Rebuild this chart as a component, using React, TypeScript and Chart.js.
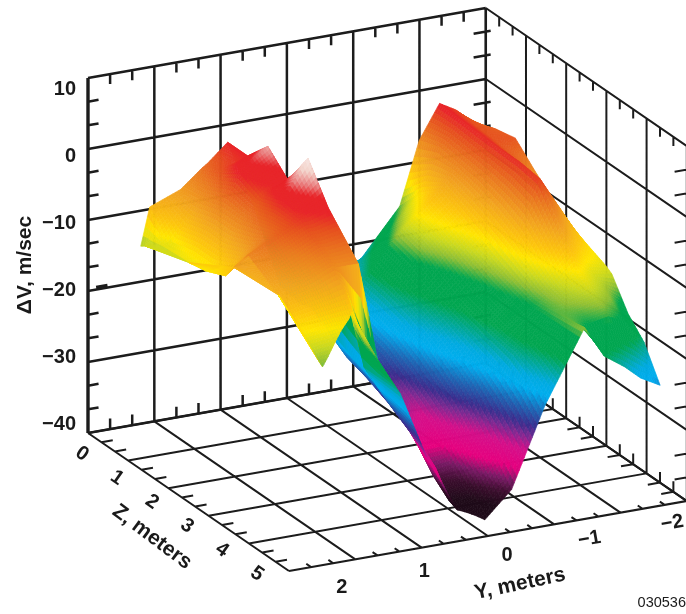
import React, { useEffect, useRef } from "react";
import { Chart, registerables } from "chart.js";

Chart.register(...registerables);

// ---- data (metres, m/sec) ----
const DV_TICKS = [10, 0, -10, -20, -30, -40];
const Z_TICKS = [0, 1, 2, 3, 4, 5];
const Y_TICKS = [2, 1, 0, -1, -2];
// wall grid lines along Y
const Y_GRID = [2.45, 1.633, 0.817, 0, -0.817, -1.633, -2.45];

const SURF_Y = [1.8, 1.69, 1.31, 1.045, 0.98, 0.73, 0.41, 0.25, 0.08, -0.16, -0.49, -0.9, -1.39, -1.63, -1.88, -2.08, -2.32];
const SURF_Z = [0, 0.5, 1, 1.5, 2, 2.5, 3.25, 3.4, 3.8, 4.2, 4.6];
const SURF_Z_FRONT = [0.12, 4.3, 3.95, 3.73, 4.25, 4.3, 4.3, 4.35, 4.4, 4.6, 4.6, 4.6, 4.6, 4.6, 4.6, 4.6, 4.6];
const SURF_DV = [
  [-15, -13, -13, -13, -12, -7, -9.8, -10.5, -13, -15.5, -17],
  [-9.7, -13.3, -12.5, -12.5, -11, -6.5, -9.2, -10, -12.5, -15, -17],
  [-8, -7.5, -6.5, -6.5, -5.5, -4.5, -8, -9, -12, -14.5, -17],
  [-5.5, -4, -2, -3.5, -2.5, -3, -6.7, -8, -12, -14, -16],
  [-5, -3.5, -1.2, -3, -1, -3, -7, -9, -14, -16, -18],
  [-2.5, -2.5, 0.8, -2, 3, -2, -7, -21, -21, -21, -22],
  [-12, -15, -18, -20, -22.5, -24, -26, -27, -28.5, -30, -33],
  [-18, -20, -22, -24, -26, -27, -29, -29.5, -31, -33, -37],
  [-24, -23, -24, -26, -27, -28, -31, -33, -36, -38, -39],
  [-27, -26, -25, -26, -27, -29, -32.2, -33, -35.5, -37.5, -39.6],
  [-24, -23.5, -20, -20.5, -21.5, -23, -26.2, -27, -30, -33, -36],
  [-22.4, -18, -14.5, -15.5, -17.5, -19, -20.3, -20.5, -21, -22.5, -25],
  [-15.8, -12, -9.5, -11, -12.5, -14, -15.8, -16, -15.8, -15.5, -15],
  [-7, -6, -6.5, -7, -8, -9.5, -13.4, -14, -15, -16.5, -19.5],
  [-2.3, -2.5, -2.7, -2.8, -2.8, -3.2, -10.5, -12, -14, -16, -21.5],
  [-3.6, -4, -4.2, -4.8, -5.5, -7, -12.6, -13.5, -15, -17, -23.5],
  [-6, -4.8, -4.2, -7, -9.5, -11.5, -13.4, -14, -18, -20.5, -25],
];

const COLOR_VALUES = [-38, -36.5, -35, -33.5, -31, -29.3, -28, -26, -24, -22.5, -21, -19.5, -16.5, -15.2, -14, -12.5, -11, -8.5, -6, -4, -2.6, -1, 0, 1.5, 3];
const COLOR_STOPS = [
  "#1e0a18", "#3a0d2c", "#7a1a66", "#e6007e", "#d4108a", "#7e2a92", "#3a2e8e", "#1e66b4", "#00aeef", "#00aae0", "#00a89a", "#00a650",
  "#00a650", "#8dbf35", "#c8d820", "#ffe600", "#fdc70c", "#f2a41f", "#ea7a20", "#e6501f", "#e8252a", "#e8252a", "#e98080", "#f3d4cc", "#f8e8e4",
];

// ---- oblique projection of the plot box onto the page ----
const toU = (y: number) => (2.45 - y) / 0.8167;
const toPage = (y: number, z: number, dv: number) => {
  const u = toU(y);
  return {
    x: 88 + 66.3 * u + 40.2 * z,
    y: 433 - 11.67 * u + 27.6 * z - 7.1 * (dv + 40),
  };
};

type P = { x: number | null; y: number | null };
const BREAK: P = { x: null, y: null };
const seg = (out: P[], a: [number, number, number], b: [number, number, number]) => {
  out.push(toPage(...a), toPage(...b), BREAK);
};

const Y0 = Y_GRID[0];
const YN = Y_GRID[Y_GRID.length - 1];
const ZN = Z_TICKS[Z_TICKS.length - 1];
const DT = DV_TICKS[0];
const DB = DV_TICKS[DV_TICKS.length - 1];

function backWall(): P[] {
  const out: P[] = [];
  for (const y of Y_GRID) seg(out, [y, 0, DB], [y, 0, DT]);
  for (const d of DV_TICKS) seg(out, [Y0, 0, d], [YN, 0, d]);
  for (let i = 0; i < Y_GRID.length - 1; i++) {
    for (const f of [1 / 3, 2 / 3]) {
      const y = Y_GRID[i] + (Y_GRID[i + 1] - Y_GRID[i]) * f;
      seg(out, [y, 0, DT], [y, 0, DT - 1.4]);
      seg(out, [y, 0, DB], [y, 0, DB + 1.5]);
    }
  }
  for (let i = 0; i < DV_TICKS.length - 1; i++) {
    for (const f of [1 / 3, 2 / 3]) {
      const d = DV_TICKS[i] + (DV_TICKS[i + 1] - DV_TICKS[i]) * f;
      seg(out, [Y0, 0, d], [Y0 - 0.13, 0, d]);
      seg(out, [YN + 0.15, 0, d], [YN - 0.06, 0, d]);
    }
  }
  return out;
}
function leftAxis(): P[] {
  const out: P[] = [];
  seg(out, [Y0, 0, DB], [Y0, 0, DT]);
  // the heavy stub beside the -20 label
  seg(out, [Y0 - 0.1, 0, -19.7], [Y0 - 0.24, 0, -19.7]);
  return out;
}
function rightWall(): P[] {
  const out: P[] = [];
  for (const z of Z_TICKS) seg(out, [YN, z, DB], [YN, z, DT]);
  for (const d of DV_TICKS) seg(out, [YN, 0, d], [YN, ZN, d]);
  for (let i = 0; i < Z_TICKS.length - 1; i++) {
    for (const f of [1 / 3, 2 / 3]) {
      const z = Z_TICKS[i] + f;
      seg(out, [YN, z, DT], [YN, z, DT - 1.3]);
      seg(out, [YN, z, DB], [YN, z, DB + 1.5]);
      seg(out, [YN, z, DB], [YN + 0.15, z, DB]);
    }
  }
  for (let i = 0; i < DV_TICKS.length - 1; i++) {
    for (const f of [1 / 3, 2 / 3]) {
      const d = DV_TICKS[i] + (DV_TICKS[i + 1] - DV_TICKS[i]) * f;
      seg(out, [YN, ZN, d], [YN + 0.15, ZN, d]);
    }
  }
  return out;
}
function floor(): P[] {
  const out: P[] = [];
  for (const y of Y_GRID) seg(out, [y, 0, DB], [y, ZN, DB]);
  for (const z of Z_TICKS) seg(out, [Y0, z, DB], [YN, z, DB]);
  for (let i = 0; i < Z_TICKS.length - 1; i++) {
    for (const f of [1 / 3, 2 / 3]) {
      seg(out, [Y0, Z_TICKS[i] + f, DB], [Y0 - 0.14, Z_TICKS[i] + f, DB]);
    }
  }
  for (let i = 0; i < Y_GRID.length - 1; i++) {
    for (const f of [1 / 3, 2 / 3]) {
      const y = Y_GRID[i] + (Y_GRID[i + 1] - Y_GRID[i]) * f;
      seg(out, [y, ZN, DB], [y, ZN - 0.12, DB]);
    }
  }
  return out;
}

// ---- surface helpers ----
const hex = (h: string) => [1, 3, 5].map((i) => parseInt(h.slice(i, i + 2), 16));
const STOPS_RGB = COLOR_STOPS.map(hex);
function colorOf(v: number) {
  const n = COLOR_VALUES.length;
  if (v <= COLOR_VALUES[0]) return COLOR_STOPS[0];
  if (v >= COLOR_VALUES[n - 1]) return COLOR_STOPS[n - 1];
  let i = 0;
  while (COLOR_VALUES[i + 1] < v) i++;
  const f = (v - COLOR_VALUES[i]) / (COLOR_VALUES[i + 1] - COLOR_VALUES[i]);
  const a = STOPS_RGB[i];
  const b = STOPS_RGB[i + 1];
  return `rgb(${a.map((c, k) => Math.round(c + (b[k] - c) * f)).join(",")})`;
}
function locate(axis: number[], v: number) {
  // axis may run up or down
  let i = 0;
  const sign = axis[1] > axis[0] ? 1 : -1;
  while (i < axis.length - 2 && sign * axis[i + 1] < sign * v) i++;
  return { i, f: (v - axis[i]) / (axis[i + 1] - axis[i]) };
}
function frontAt(y: number) {
  const { i, f } = locate(SURF_Y, y);
  return SURF_Z_FRONT[i] + (SURF_Z_FRONT[i + 1] - SURF_Z_FRONT[i]) * f;
}
function heightAt(y: number, z: number) {
  const a = locate(SURF_Y, y);
  const b = locate(SURF_Z, z);
  const r0 = SURF_DV[a.i];
  const r1 = SURF_DV[a.i + 1];
  const d0 = r0[b.i] + (r0[b.i + 1] - r0[b.i]) * b.f;
  const d1 = r1[b.i] + (r1[b.i + 1] - r1[b.i]) * b.f;
  return d0 + (d1 - d0) * a.f;
}
function fineAxis(axis: number[], step: number) {
  const out: number[] = [];
  for (let i = 0; i < axis.length - 1; i++) {
    const n = Math.max(1, Math.ceil(Math.abs(axis[i + 1] - axis[i]) / step));
    for (let k = 0; k < n; k++) out.push(axis[i] + ((axis[i + 1] - axis[i]) * k) / n);
  }
  out.push(axis[axis.length - 1]);
  return out;
}

const surfacePlugin = {
  id: "surfaceCells",
  afterDatasetDraw(chart: any, args: any) {
    if (args.index !== 0) return;
    const { ctx, scales } = chart;
    const px = (p: { x: number; y: number }) => [scales.x.getPixelForValue(p.x), scales.y.getPixelForValue(p.y)];
    const ys = fineAxis(SURF_Y, 0.032);
    const zs = fineAxis(SURF_Z, 0.05);
    const cells: { depth: number; color: string; pts: number[][] }[] = [];
    for (let i = 0; i < ys.length - 1; i++) {
      const f0 = frontAt(ys[i]);
      const f1 = frontAt(ys[i + 1]);
      for (let j = 0; j < zs.length - 1; j++) {
        if (zs[j] >= Math.max(f0, f1)) continue;
        const corners: [number, number][] = [
          [ys[i], Math.min(zs[j], f0)],
          [ys[i + 1], Math.min(zs[j], f1)],
          [ys[i + 1], Math.min(zs[j + 1], f1)],
          [ys[i], Math.min(zs[j + 1], f0)],
        ];
        let sum = 0;
        let depth = 0;
        const pts = corners.map(([y, z]) => {
          const d = heightAt(y, z);
          sum += d;
          depth += -11.67 * toU(y) + 27.6 * z;
          return px(toPage(y, z, d));
        });
        cells.push({ depth, color: colorOf(sum / 4), pts });
      }
    }
    cells.sort((a, b) => a.depth - b.depth);
    ctx.save();
    ctx.lineWidth = 0.7;
    ctx.lineJoin = "round";
    for (const c of cells) {
      ctx.beginPath();
      c.pts.forEach((p, k) => (k ? ctx.lineTo(p[0], p[1]) : ctx.moveTo(p[0], p[1])));
      ctx.closePath();
      ctx.fillStyle = c.color;
      ctx.strokeStyle = c.color;
      ctx.fill();
      ctx.stroke();
    }
    ctx.restore();
  },
};

const INK = "#1c1c1c";
const MINUS = (v: number) => (v < 0 ? "\u2212" + Math.abs(v) : String(v));

const labelPlugin = {
  id: "boxLabels",
  afterDraw(chart: any) {
    const { ctx } = chart;
    const put = (text: string, x: number, y: number, rot: number, font: string, align: CanvasTextAlign = "center") => {
      ctx.save();
      ctx.translate(x, y);
      ctx.rotate((rot * Math.PI) / 180);
      ctx.font = font;
      ctx.textAlign = align;
      ctx.textBaseline = "middle";
      ctx.fillStyle = "#1a1a1a";
      ctx.fillText(text, 0, 0);
      ctx.restore();
    };
    const bold = 'bold 20px "Liberation Sans"';
    const title = 'bold 21px "Liberation Sans"';
    DV_TICKS.forEach((d) => put(MINUS(d), 76, 89 + (10 - d) * 6.7, 0, bold, "right"));
    Z_TICKS.forEach((z) => put(String(z), 82 + 35 * z, 454 + 24 * z, 35, bold));
    Y_TICKS.forEach((y) => put(MINUS(y), 507 - 82.6 * y, 555 + 16 * y, y < 0 ? -10 : 0, bold));
    put("\u0394V, m/sec", 25, 265, -90, title);
    put("Z, meters", 152, 537, 37, title);
    put("Y, meters", 520, 584, -12, title);
    put("030536", 686, 603, 0, '14.5px "Liberation Sans"', "right");
  },
};

function lineSet(label: string, data: P[], width: number) {
  return {
    label,
    data,
    showLine: true,
    spanGaps: false,
    borderColor: INK,
    borderWidth: width,
    pointRadius: 0,
    clip: false,
  };
}

export default function App() {
  const ref = useRef<HTMLCanvasElement | null>(null);
  useEffect(() => {
    if (!ref.current) return;
    const nodes: P[] = [];
    SURF_Y.forEach((y, i) => SURF_Z.forEach((z, j) => nodes.push(toPage(y, z, SURF_DV[i][j]))));
    const chart = new Chart(ref.current, {
      type: "scatter",
      data: {
        datasets: [
          { label: "surface", data: nodes, pointRadius: 0, showLine: false, clip: false },
          lineSet("floor", floor(), 2),
          lineSet("right wall", rightWall(), 2),
          lineSet("back wall", backWall(), 2.5),
          lineSet("left axis", leftAxis(), 3.2),
        ],
      } as any,
      options: {
        responsive: false,
        animation: false,
        layout: { padding: 0 },
        events: [],
        plugins: { legend: { display: false }, tooltip: { enabled: false } },
        scales: {
          x: { type: "linear", min: 0, max: 686, display: false },
          y: { type: "linear", min: 0, max: 614, reverse: true, display: false },
        },
      },
      plugins: [surfacePlugin, labelPlugin],
    } as any);
    return () => chart.destroy();
  }, []);
  return (
    <div style={{ position: "absolute", left: 0, top: 0, width: 686, height: 614, background: "#fff" }}>
      <canvas ref={ref} width={686} height={614} style={{ display: "block" }} />
    </div>
  );
}
